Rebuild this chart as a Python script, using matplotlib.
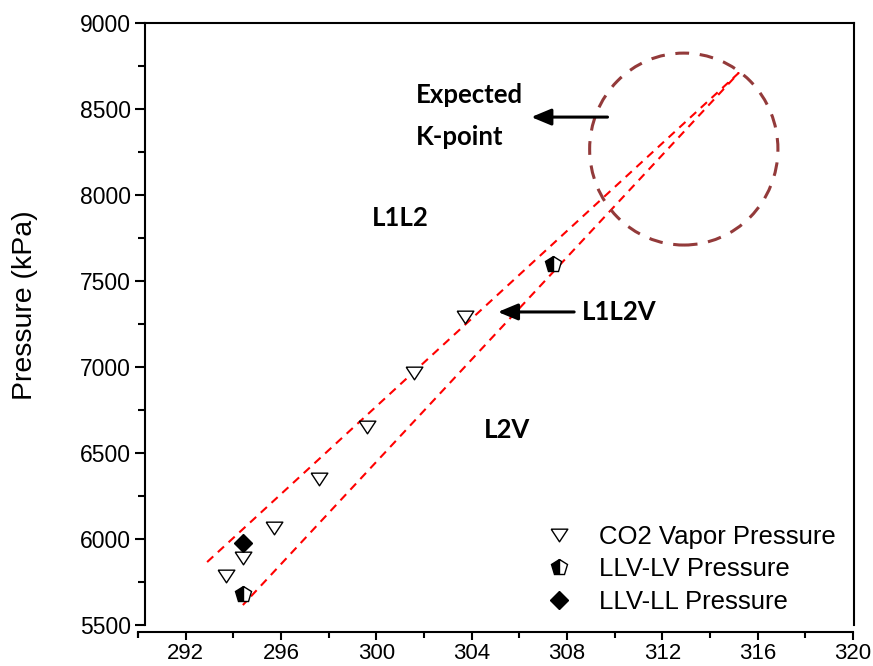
import matplotlib
matplotlib.use("Agg")
import matplotlib.pyplot as plt
from matplotlib.patches import Ellipse

# --- data -------------------------------------------------------------
co2_T = [293.7, 294.4, 295.7, 297.6, 299.6, 301.6, 303.7]
co2_P = [5785, 5890, 6064, 6349, 6651, 6965, 7291]

llv_lv_T = [294.4, 307.4]
llv_lv_P = [5680, 7599]

llv_ll_T = [294.4]
llv_ll_P = [5978]

# dashed envelope of the three-phase region (upper branch -> K-point -> lower branch)
env_T = [292.9, 315.2, 294.4]
env_P = [5866, 8709, 5616]

# expected K-point region
kpt_T, kpt_P = 312.9, 8267
kpt_w, kpt_h = 7.9, 1116

x_ticks = [292, 296, 300, 304, 308, 312, 316, 320]
y_ticks = [5500, 6000, 6500, 7000, 7500, 8000, 8500, 9000]

# --- figure -----------------------------------------------------------
W, H = 873, 666
fig = plt.figure(figsize=(W / 100, H / 100), dpi=100)
plt.rcParams["font.family"] = ["Liberation Sans", "DejaVu Sans"]

# pixel geometry
ax_l, ax_r, ax_t, ax_b = 145, 854, 23, 625
xa_l, xa_r, xa_y = 138, 853, 632
x0, x1 = 290, 320
ppu = (xa_r - xa_l) / (x1 - x0)

ax = fig.add_axes([ax_l / W, 1 - ax_b / H, (ax_r - ax_l) / W, (ax_b - ax_t) / H])
ax.set_xlim(x0 + (ax_l - xa_l) / ppu, x0 + (ax_r - xa_l) / ppu)
ax.set_ylim(5500, 9000)

for s in ("left", "top", "right"):
    ax.spines[s].set_linewidth(1.5)
ax.spines["bottom"].set_visible(False)
ax.set_xticks([])
ax.set_yticks(y_ticks)
ax.set_yticks([v + 250 for v in y_ticks[:-1]], minor=True)
ax.tick_params(axis="y", which="major", direction="out", length=7, width=1.5,
               labelsize=16.5, pad=3)
ax.tick_params(axis="y", which="minor", direction="out", length=5, width=1.5)

# detached bottom axis
axb = fig.add_axes([xa_l / W, 1 - xa_y / H, (xa_r - xa_l) / W, 0.0001])
axb.set_facecolor("none")
for s in ("left", "top", "right"):
    axb.spines[s].set_visible(False)
axb.spines["bottom"].set_linewidth(1.5)
axb.set_xlim(x0, x1)
axb.set_yticks([])
axb.set_xticks(x_ticks)
axb.set_xticks([v - 2 for v in x_ticks] + [290], minor=True)
axb.tick_params(axis="x", which="major", direction="out", length=6, width=1.5,
                labelsize=16, pad=2)
axb.tick_params(axis="x", which="minor", direction="out", length=4, width=1.5)

fig.text(25 / W, 1 - 305 / H, "Pressure (kPa)", rotation=90, ha="center",
         va="center", fontsize=20.5)

# envelope and K-point circle
ax.plot(env_T, env_P, color="#ff0000", lw=1.5, ls=(0, (4, 3)), zorder=2)
ax.add_patch(Ellipse((kpt_T, kpt_P), kpt_w, kpt_h, fill=False,
                     edgecolor="#933a3a", lw=2.2, ls=(0, (4.5, 3.5)), zorder=2))

# data markers
tri = [(-1, 0.76), (1, 0.76), (0, -0.76), (-1, 0.76)]
ax.plot(co2_T, co2_P, ls="none", marker=tri, ms=12, mfc="white", mec="black",
        mew=1.0, label="CO2 Vapor Pressure", zorder=3)
ax.plot(llv_lv_T, llv_lv_P, ls="none", marker="p", ms=12, fillstyle="left",
        mfc="black", mfcalt="white", mec="black", mew=1.0,
        label="LLV-LV Pressure", zorder=3)
ax.plot(llv_ll_T, llv_ll_P, ls="none", marker="D", ms=8.8, mfc="black",
        mec="black", mew=1.0, label="LLV-LL Pressure", zorder=3)

# region labels
bold = dict(family=["Lato", "DejaVu Sans"], fontweight="bold", fontsize=18.5,
            ha="center", va="center")
ax.text(303.9, 8581, "Expected", **bold)
ax.text(303.5, 8337, "K-point", **bold)
ax.text(301.0, 7866, "L1L2", **bold)
ax.text(310.2, 7320, "L1L2V", **bold)
ax.text(305.5, 6634, "L2V", **bold)

arrow = dict(arrowstyle="-|>,head_length=0.6,head_width=0.25", lw=2.2,
             color="black", shrinkA=0, shrinkB=0, mutation_scale=20)
ax.annotate("", xy=(306.5, 8453), xytext=(309.7, 8453), arrowprops=arrow)
ax.annotate("", xy=(305.1, 7320), xytext=(308.3, 7320), arrowprops=arrow)

ax.legend(loc="upper left", bbox_to_anchor=(0.5656, 0.166), frameon=False,
          fontsize=18.5, handlelength=1.0, handletextpad=1.05, labelspacing=0.32,
          borderpad=0, borderaxespad=0)

fig.savefig("out.png", dpi=100)
